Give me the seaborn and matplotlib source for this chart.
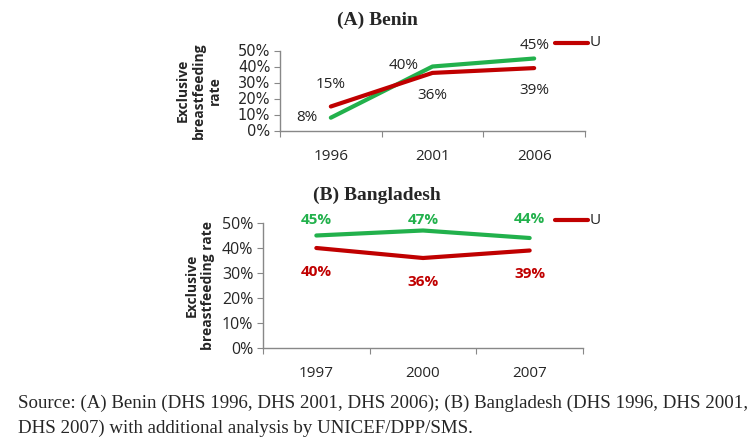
import numpy as np
import pandas as pd
import seaborn as sns
import matplotlib.pyplot as plt

# data (per cent)
benin_years = ["1996", "2001", "2006"]
benin_green = [8, 40, 45]
benin_red = [15, 36, 39]
bangla_years = ["1997", "2000", "2007"]
bangla_green = [45, 47, 44]
bangla_red = [40, 36, 39]

RED = "#C00000"
GREEN = "#22B14C"

sns.set_style("white")
plt.rcParams["font.family"] = ["Open Sans", "DejaVu Sans"]

W, H = 749, 446
fig = plt.figure(figsize=(W / 100, H / 100), dpi=100)


def px_axes(left, right, top, bottom):
    return fig.add_axes([left / W, 1 - bottom / H, (right - left) / W, (bottom - top) / H])


def panel(ax, years, green, red, offs_g, offs_r, bold, yfont):
    df = pd.DataFrame({
        "pos": list(range(len(years))) * 2,
        "val": green + red,
        "grp": ["g"] * len(years) + ["r"] * len(years),
    })
    sns.lineplot(data=df, x="pos", y="val", hue="grp", palette={"g": GREEN, "r": RED},
                 linewidth=3, ax=ax, legend=False)
    ax.set_xlim(-0.5, len(years) - 0.5)
    ax.set_ylim(0, 50)
    ax.set_yticks(range(0, 51, 10))
    ax.set_yticklabels([f"{v}%" for v in range(0, 51, 10)], **yfont)
    ax.set_xticks(np.arange(-0.5, len(years), 1.0))
    ax.set_xticklabels([])
    ax.set_xticks(range(len(years)), minor=True)
    ax.set_xticklabels(years, minor=True, fontsize=11)
    ax.tick_params(axis="x", which="major", length=4, direction="out", color="#888888", bottom=True)
    ax.tick_params(axis="x", which="minor", length=0, pad=13)
    ax.tick_params(axis="y", length=4, direction="out", color="#888888", left=True, pad=3)
    for s in ["top", "right"]:
        ax.spines[s].set_visible(False)
    for s in ["left", "bottom"]:
        ax.spines[s].set_color("#888888")
        ax.spines[s].set_linewidth(1)
    ax.set_xlabel("")
    ax.patch.set_alpha(0)
    fw = "bold" if bold else "normal"
    for vals, offs, col in [(green, offs_g, GREEN), (red, offs_r, RED)]:
        for i, (v, o) in enumerate(zip(vals, offs)):
            ax.annotate(f"{v}%", (i, v), xytext=o, textcoords="offset pixels",
                        ha="center", va="center", fontsize=11, fontweight=fw,
                        color=col if bold else "#222222")


# panel A
axA = px_axes(280, 585, 50.5, 130.5)
panel(axA, benin_years, benin_green, benin_red,
      [(-24, 0), (-29, 1), (0, 13)], [(0, 22), (0, -23), (0, -22)], False,
      {"fontsize": 10.5, "family": "DejaVu Sans"})
axA.set_ylabel("Exclusive\nbreastfeeding\nrate", fontsize=10, fontweight="bold")
axA.yaxis.set_label_coords(-0.19, 0.5)

# panel B
axB = px_axes(263, 583, 223, 348)
panel(axB, bangla_years, bangla_green, bangla_red,
      [(0, 16), (0, 11), (0, 19)], [(0, -24), (0, -24), (0, -24)], True,
      {"fontsize": 11.5})
axB.set_ylabel("Exclusive\nbreastfeeding rate", fontsize=10, fontweight="bold")
axB.yaxis.set_label_coords(-0.15, 0.5)

# clipped legend stubs
for y in (43, 220):
    fig.add_artist(plt.Line2D([555 / W, 588 / W], [1 - y / H] * 2, color=RED, lw=3))
    fig.text(590 / W, 1 - y / H, "U", fontsize=11, va="center", ha="left", color="#222222")

serif = ["Liberation Serif", "DejaVu Serif"]
fig.text(377 / W, 1 - 20 / H, "(A) Benin", family=serif, fontsize=14, fontweight="bold",
         ha="center", va="center")
fig.text(377 / W, 1 - 195 / H, "(B) Bangladesh", family=serif, fontsize=14, fontweight="bold",
         ha="center", va="center")
fig.text(18 / W, 1 - 403 / H,
         "Source: (A) Benin (DHS 1996, DHS 2001, DHS 2006); (B) Bangladesh (DHS 1996, DHS 2001,",
         family=serif, fontsize=13.6, ha="left", va="center")
fig.text(18 / W, 1 - 428 / H, "DHS 2007) with additional analysis by UNICEF/DPP/SMS.",
         family=serif, fontsize=13.6, ha="left", va="center")

fig.savefig("out.png", dpi=100)
